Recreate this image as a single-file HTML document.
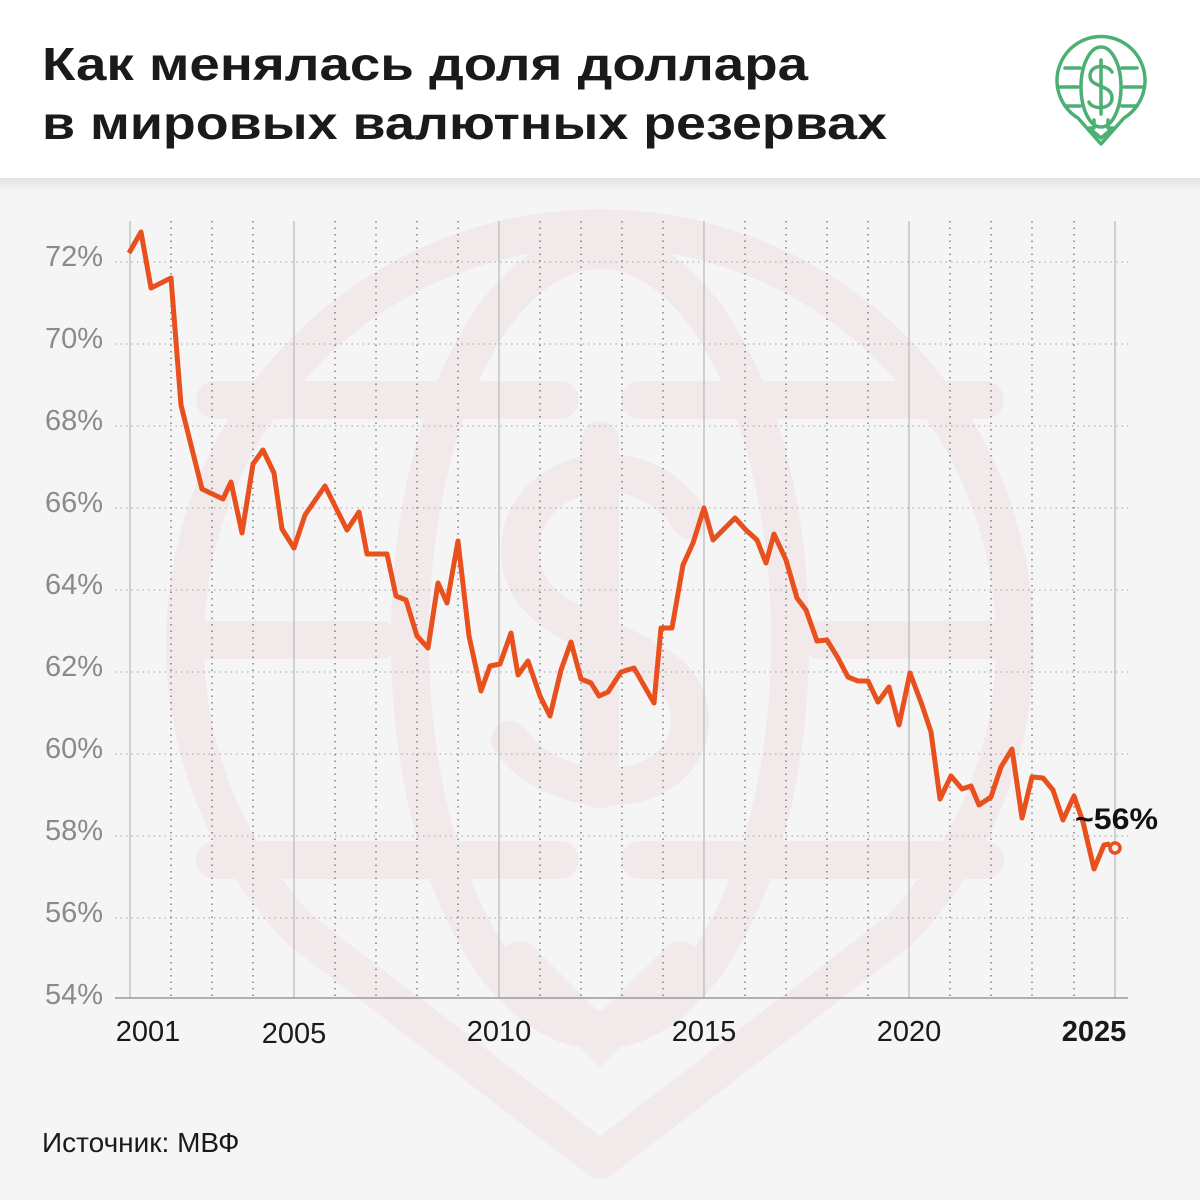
<!DOCTYPE html>
<html><head><meta charset="utf-8"><style>
html,body{margin:0;padding:0;background:#f5f5f5;}
svg{display:block}
</style></head><body>
<svg width="1200" height="1200" viewBox="0 0 1200 1200" xmlns="http://www.w3.org/2000/svg">
<defs>
<linearGradient id="sh" x1="0" y1="0" x2="0" y2="1"><stop offset="0" stop-color="#000" stop-opacity="0.08"/><stop offset="1" stop-color="#000" stop-opacity="0"/></linearGradient>
</defs>
<rect width="1200" height="1200" fill="#f5f5f5"/>
<!-- watermark -->
<g fill="none" stroke="#f0dcdc" stroke-width="38" stroke-linecap="round" opacity="0.4">
<path d="M300,930 A415,415 0 1 1 900,930 L600,1160 Z" stroke-linejoin="round"/>
<ellipse cx="600" cy="640" rx="190" ry="390"/>
<line x1="215" y1="400" x2="560" y2="400"/><line x1="640" y1="400" x2="985" y2="400"/>
<line x1="195" y1="640" x2="380" y2="640"/><line x1="820" y1="640" x2="1005" y2="640"/>
<line x1="215" y1="860" x2="560" y2="860"/><line x1="640" y1="860" x2="985" y2="860"/>
<path d="M690,520 C640,440 520,470 520,550 C520,650 690,630 690,720 C690,800 560,810 510,740"/>
<line x1="600" y1="440" x2="600" y2="790"/>
<path d="M520,960 L600,1040 L680,960"/>
</g>
<!-- header -->
<rect x="0" y="178" width="1200" height="14" fill="url(#sh)"/>
<rect x="0" y="0" width="1200" height="178" fill="#fff"/>
<g font-family="Liberation Sans, sans-serif" font-weight="bold" font-size="46" fill="#1a1a1a">
<text x="42" y="80" textLength="766" lengthAdjust="spacingAndGlyphs">Как менялась доля доллара</text>
<text x="42" y="139" textLength="845" lengthAdjust="spacingAndGlyphs">в мировых валютных резервах</text>
</g>
<!-- icon -->
<g fill="none" stroke="#4caf73" stroke-width="3.5" stroke-linecap="round" stroke-linejoin="round">
<path d="M1078,118 A44,44 0 1 1 1124,118 L1101,144 Z"/>
<ellipse cx="1101" cy="87" rx="20" ry="40"/>
<line x1="1065" y1="68" x2="1080" y2="68"/><line x1="1122" y1="68" x2="1137" y2="68"/>
<line x1="1060" y1="87" x2="1078" y2="87"/><line x1="1124" y1="87" x2="1142" y2="87"/>
<line x1="1065" y1="106" x2="1080" y2="106"/><line x1="1122" y1="106" x2="1137" y2="106"/>
<path d="M1112,72 C1108,64 1090,64 1090,76 C1090,88 1112,84 1112,98 C1112,110 1092,110 1089,102"/>
<line x1="1101" y1="60" x2="1101" y2="114"/>
<path d="M1094,120 L1094,128 L1089,128 L1101,138 L1113,128 L1108,128 L1108,120"/>
</g>
<!-- grid -->
<g stroke="#888" stroke-width="1.2" stroke-dasharray="1.5 4" opacity="0.6">
<line x1="115" y1="262" x2="1128" y2="262"/>
<line x1="115" y1="344" x2="1128" y2="344"/>
<line x1="115" y1="426" x2="1128" y2="426"/>
<line x1="115" y1="508" x2="1128" y2="508"/>
<line x1="115" y1="590" x2="1128" y2="590"/>
<line x1="115" y1="672" x2="1128" y2="672"/>
<line x1="115" y1="754" x2="1128" y2="754"/>
<line x1="115" y1="836" x2="1128" y2="836"/>
<line x1="115" y1="918" x2="1128" y2="918"/>
</g>
<g stroke="#444" stroke-width="1.3" stroke-dasharray="1.5 5" opacity="0.75">
<line x1="171" y1="221" x2="171" y2="998"/><line x1="212" y1="221" x2="212" y2="998"/><line x1="253" y1="221" x2="253" y2="998"/>
<line x1="335" y1="221" x2="335" y2="998"/><line x1="376" y1="221" x2="376" y2="998"/><line x1="417" y1="221" x2="417" y2="998"/><line x1="458" y1="221" x2="458" y2="998"/>
<line x1="540" y1="221" x2="540" y2="998"/><line x1="581" y1="221" x2="581" y2="998"/><line x1="622" y1="221" x2="622" y2="998"/><line x1="663" y1="221" x2="663" y2="998"/>
<line x1="745" y1="221" x2="745" y2="998"/><line x1="786" y1="221" x2="786" y2="998"/><line x1="827" y1="221" x2="827" y2="998"/><line x1="868" y1="221" x2="868" y2="998"/>
<line x1="950" y1="221" x2="950" y2="998"/><line x1="991" y1="221" x2="991" y2="998"/><line x1="1032" y1="221" x2="1032" y2="998"/><line x1="1074" y1="221" x2="1074" y2="998"/>
</g>
<g stroke="#bbb" stroke-width="1.3">
<line x1="130" y1="221" x2="130" y2="998"/><line x1="294" y1="221" x2="294" y2="998"/><line x1="499" y1="221" x2="499" y2="998"/>
<line x1="704" y1="221" x2="704" y2="998"/><line x1="909" y1="221" x2="909" y2="998"/><line x1="1115" y1="221" x2="1115" y2="998"/>
</g>
<line x1="115" y1="998" x2="1128" y2="998" stroke="#999" stroke-width="1.5"/>
<!-- y labels -->
<g font-family="Liberation Sans, sans-serif" font-size="29" fill="#8a8a8a" text-anchor="end">
<text x="103" y="266">72%</text><text x="103" y="348">70%</text><text x="103" y="430">68%</text>
<text x="103" y="512">66%</text><text x="103" y="594">64%</text><text x="103" y="676">62%</text>
<text x="103" y="758">60%</text><text x="103" y="840">58%</text><text x="103" y="922">56%</text>
<text x="103" y="1004">54%</text>
</g>
<g font-family="Liberation Sans, sans-serif" font-size="29" fill="#1a1a1a" text-anchor="middle">
<text x="148" y="1041">2001</text><text x="294" y="1043">2005</text><text x="499" y="1041">2010</text>
<text x="704" y="1041">2015</text><text x="909" y="1041">2020</text>
<text x="1094" y="1041" font-weight="bold">2025</text>
</g>
<!-- series -->
<polyline fill="none" stroke="#e8501e" stroke-width="5" stroke-linejoin="round" points="129,253 141,232 151,288 171,278 181,405 202,489 223,499 231,482 242,533 253,464 263,450 274,473 282,529 294,548 305,515 325,486 347,530 359,512 367,554 387,554 396,596 406,600 417,636 428,648 438,583 447,603 458,541 469,636 481,691 490,666 500,664 511,633 518,675 528,661 540,696 550,716 561,670 571,642 581,679 591,683 599,696 608,692 621,672 634,668 654,703 661,628 672,628 683,565 693,543 704,508 713,540 725,528 735,518 746,530 757,540 766,563 774,534 786,560 797,598 806,610 817,641 827,640 838,658 848,677 858,681 868,681 878,702 889,687 899,725 910,673 922,705 931,732 940,799 951,776 962,789 971,786 979,805 991,797 1001,767 1012,749 1022,818 1032,777 1043,778 1053,790 1063,820 1074,796 1083,822 1094,869 1104,845 1110,844"/>
<circle cx="1115" cy="848" r="5" fill="#f5f5f5" stroke="#e8501e" stroke-width="3.5"/>
<text x="1075" y="829" font-family="Liberation Sans, sans-serif" font-size="30" fill="#111" font-weight="bold" textLength="83" lengthAdjust="spacingAndGlyphs">~56%</text>
<text x="42" y="1152" font-family="Liberation Sans, sans-serif" font-size="28" fill="#1a1a1a">Источник: МВФ</text>
</svg>
</body></html>
